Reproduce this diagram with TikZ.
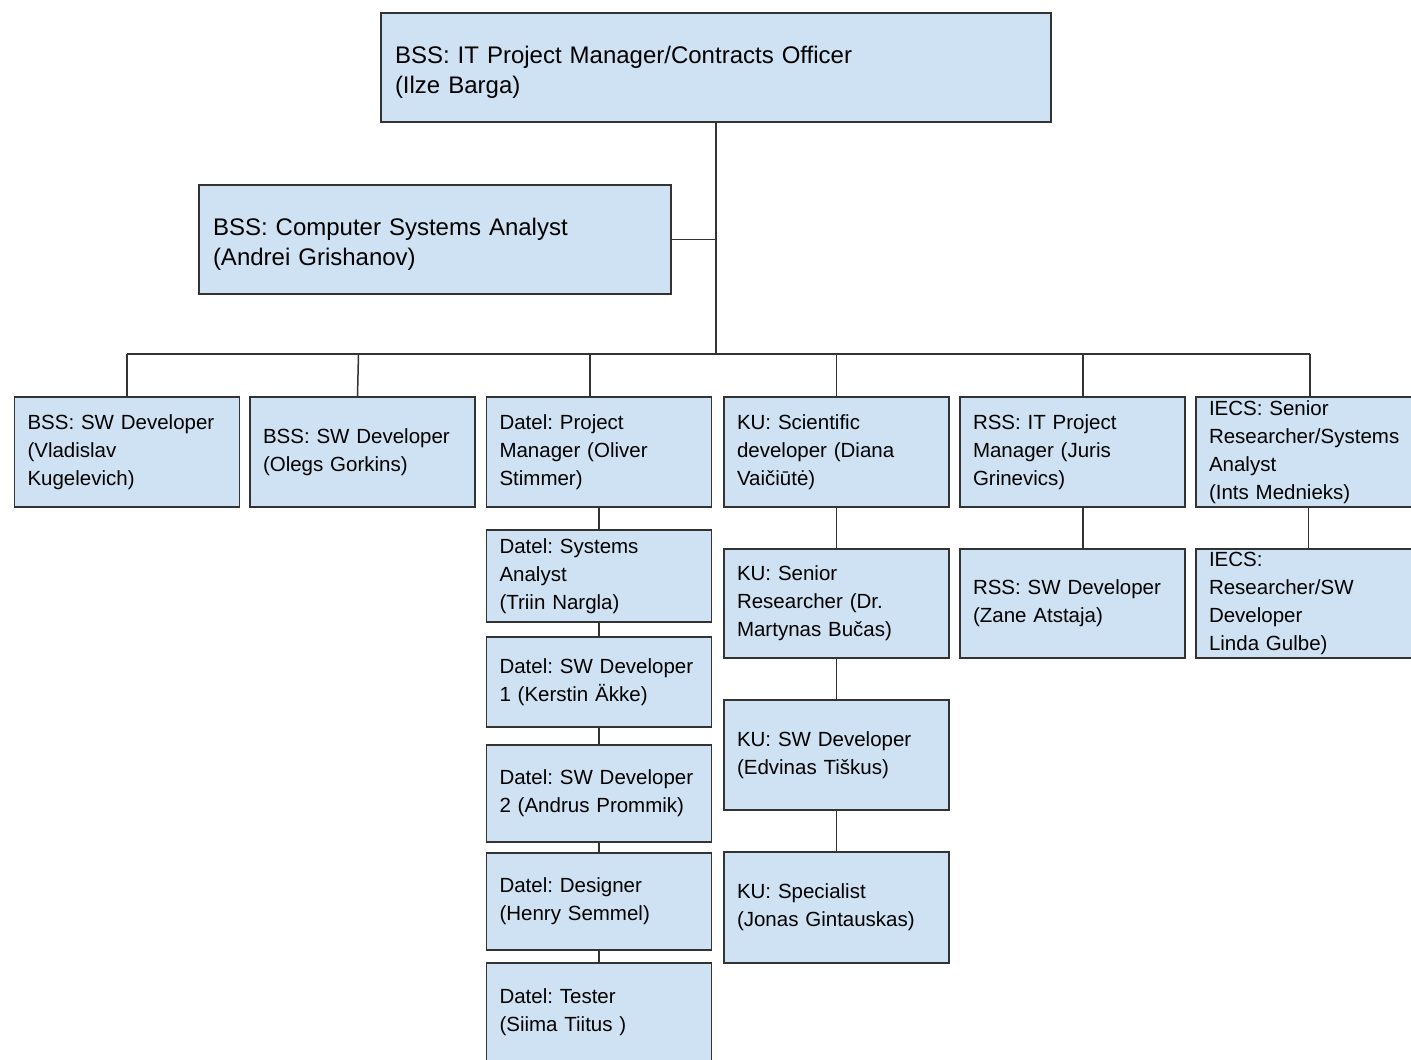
\documentclass[tikz,border=0pt]{standalone}
\usepackage{fontspec}
\setmainfont{Liberation Sans}
\frenchspacing
\hyphenpenalty=10000
\definecolor{boxblue}{HTML}{CFE2F3}
\definecolor{edgegray}{HTML}{333333}

\begin{document}
\begin{tikzpicture}
        [x=1pt, y=-1pt,
         box_style/.style={rectangle,draw=edgegray,fill=boxblue,line width=1.5pt,
            align=left,inner xsep=14pt,inner ysep=0pt,
            font=\fontsize{20.5}{28}\selectfont},
         box_style_big/.style={box_style,font=\fontsize{24}{30}\selectfont},
         unit_style/.style={box_style,inner xsep=13pt,minimum width=225pt,text width=199pt},
         edge_style/.style={draw=edgegray,line width=1.5pt}]
            \useasboundingbox (0, 0) rectangle (1411, 1060);
            % management
            \node[box_style_big, text width=642pt, minimum height=109pt] (ilze) at (716, 67.5) {\rule{0pt}{26pt}BSS: IT Project Manager/Contracts Officer\\(Ilze Barga)};
            \node[box_style_big, text width=444pt, minimum height=109pt] (andrei) at (435, 239.5) {\rule{0pt}{26pt}BSS: Computer Systems Analyst\\(Andrei Grishanov)};
            \coordinate (bus) at (716, 354);
            % first row
            \node[unit_style, minimum height=110pt] (vlad) at (127, 452) {BSS: SW Developer\\(Vladislav\\Kugelevich)};
            \node[unit_style, minimum height=110pt] (olegs) at (362.5, 452) {BSS: SW Developer\\(Olegs Gorkins)};
            \node[unit_style, minimum height=110pt] (oliver) at (599, 452) {Datel: Project\\Manager (Oliver\\Stimmer)};
            \node[unit_style, minimum height=110pt] (diana) at (836.5, 452) {KU: Scientific\\developer (Diana\\Vaičiūtė)};
            \node[unit_style, minimum height=110pt] (juris) at (1072.5, 452) {RSS: IT Project\\Manager (Juris\\Grinevics)};
            \node[unit_style, minimum height=110pt] (ints) at (1308.5, 452) {IECS: Senior\\Researcher/Systems\\Analyst\\(Ints Mednieks)};
            % Datel
            \node[unit_style, minimum height=92pt] (triin) at (599, 576) {Datel: Systems\\Analyst\\(Triin Nargla)};
            \node[unit_style, minimum height=90pt] (kerstin) at (599, 682) {Datel: SW Developer\\1 (Kerstin Äkke)};
            \node[unit_style, minimum height=97pt] (andrus) at (599, 793.5) {Datel: SW Developer\\2 (Andrus Prommik)};
            \node[unit_style, minimum height=97pt] (henry) at (599, 901.5) {Datel: Designer\\(Henry Semmel)};
            \node[unit_style, minimum height=98pt] (siima) at (599, 1012) {Datel: Tester\\(Siima Tiitus )};
            % KU
            \node[unit_style, minimum height=109pt] (martynas) at (836.5, 603.5) {KU: Senior\\Researcher (Dr.\\Martynas Bučas)};
            \node[unit_style, minimum height=110pt] (edvinas) at (836.5, 755) {KU: SW Developer\\(Edvinas Tiškus)};
            \node[unit_style, minimum height=111pt] (jonas) at (836.5, 907.5) {KU: Specialist\\(Jonas Gintauskas)};
            % RSS and IECS
            \node[unit_style, minimum height=109pt] (zane) at (1072.5, 603.5) {RSS: SW Developer\\(Zane Atstaja)};
            \node[unit_style, minimum height=109pt] (linda) at (1308.5, 603.5) {IECS:\\Researcher/SW\\Developer\\Linda Gulbe)};
            % links
            \draw[edge_style] (ilze.south) -- (bus);
            \draw[edge_style] (andrei.east) -- (andrei.east -| bus);
            \draw[edge_style] (vlad.north |- bus) -- ([xshift=1.5pt]ints.north |- bus);
            \draw[edge_style] (vlad.north) -- (vlad.north |- bus);
            \draw[edge_style] ([xshift=-5pt]olegs.north) -- ([xshift=-4pt]olegs.north |- bus);
            \draw[edge_style] ([xshift=-9pt]oliver.north) -- ([xshift=-9pt]oliver.north |- bus);
            \draw[edge_style] (diana.north) -- (diana.north |- bus);
            \draw[edge_style] ([xshift=10.5pt]juris.north) -- ([xshift=10.5pt]juris.north |- bus);
            \draw[edge_style] ([xshift=1.5pt]ints.north) -- ([xshift=1.5pt]ints.north |- bus);
            \draw[edge_style] (oliver) edge (triin) (triin) edge (kerstin) (kerstin) edge (andrus)
                (andrus) edge (henry) (henry) edge (siima);
            \draw[edge_style] (diana) edge (martynas) (martynas) edge (edvinas) (edvinas) edge (jonas);
            \draw[edge_style] ([xshift=10.5pt]juris.south) -- ([xshift=10.5pt]zane.north);
            \draw[edge_style] (ints.south) -- (linda.north);
\end{tikzpicture}
\end{document}
